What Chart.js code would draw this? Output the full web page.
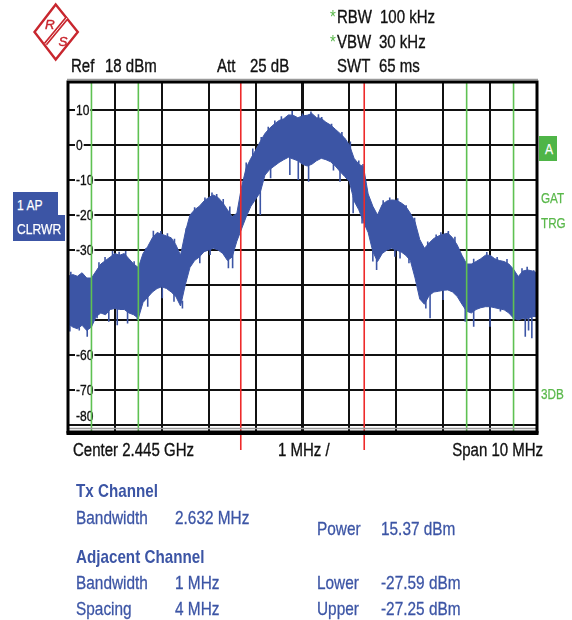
<!DOCTYPE html>
<html>
<head>
<meta charset="utf-8">
<script src="https://cdn.jsdelivr.net/npm/chart.js@4.4.1/dist/chart.umd.min.js"></script>
<style>
  html, body { margin: 0; padding: 0; background: #fff; }
  #wrap { position: relative; width: 572px; height: 620px; overflow: hidden;
          font-family: 'Liberation Sans', Arial, Helvetica, sans-serif; color: #111; }
  #c { position: absolute; left: 0; top: 0; }
  .t { position: absolute; white-space: nowrap; line-height: 1; transform: scaleX(0.79); transform-origin: left top; }
  .r { transform-origin: right top; }
  .h { font-size: 19px; -webkit-text-stroke: 0.35px #111; }
  .g { color: #5ab84b; }
  .s { font-size: 15px; transform: scaleX(0.78); -webkit-text-stroke: 0.25px #5ab84b; }
  .tb { font-size: 19px; color: #3c55a5; transform: scaleX(0.81); -webkit-text-stroke: 0.3px #3c55a5; }
  .b { font-weight: bold; -webkit-text-stroke: 0; transform: scaleX(0.8); }
  .ast { font-size: 19px; }
  .box { position: absolute; background: #3c55a5; }
  .boxt { position: absolute; color: #fff; font-size: 15.5px; line-height: 1; white-space: nowrap; transform: scaleX(0.78); transform-origin: left top; -webkit-text-stroke: 0.25px #fff; }
</style>
</head>
<body>
<div id="wrap">
  <canvas id="c" width="572" height="620"></canvas>

  <!-- R&S logo -->
  <svg style="position:absolute;left:0;top:0" width="100" height="70" viewBox="0 0 100 70">
    <polygon points="55.7,4.5 77.8,32 55.7,59.5 34.5,32" fill="none" stroke="#c8262e" stroke-width="2.4"/>
    <line x1="45.5" y1="44" x2="67" y2="18" stroke="#c8262e" stroke-width="4"/>
    <line x1="45.5" y1="44" x2="67" y2="18" stroke="#fff" stroke-width="0.9"/>
    <text x="45" y="29" font-family="Liberation Sans, Arial, sans-serif" font-size="13.5" fill="#c8262e" stroke="#c8262e" stroke-width="0.4" font-style="italic">R</text>
    <text x="58.5" y="46" font-family="Liberation Sans, Arial, sans-serif" font-size="13.5" fill="#c8262e" stroke="#c8262e" stroke-width="0.4" font-style="italic">S</text>
  </svg>

  <!-- header -->
  <div class="t g ast" style="left:329.5px;top:7.4px;">*</div>
  <div class="t h" style="left:337px;top:7.4px;">RBW</div>
  <div class="t h" style="left:380px;top:7.4px;">100 kHz</div>
  <div class="t g ast" style="left:329.5px;top:32.4px;">*</div>
  <div class="t h" style="left:337px;top:32.4px;">VBW</div>
  <div class="t h" style="left:379px;top:32.4px;">30 kHz</div>
  <div class="t h" style="left:71px;top:55.7px;">Ref</div>
  <div class="t h" style="left:105px;top:55.7px;">18 dBm</div>
  <div class="t h" style="left:217px;top:55.7px;">Att</div>
  <div class="t h" style="left:250px;top:55.7px;">25 dB</div>
  <div class="t h" style="left:337px;top:55.7px;">SWT</div>
  <div class="t h" style="left:379px;top:55.7px;">65 ms</div>

  <!-- trace info box -->
  <div class="box" style="left:13px;top:192px;width:45px;height:23px;"></div>
  <div class="box" style="left:13px;top:215px;width:52px;height:26px;"></div>
  <div class="boxt" style="left:17px;top:196.5px;">1 AP</div>
  <div class="boxt" style="left:16.5px;top:220.5px;">CLRWR</div>

  <!-- right side indicators -->
  <div class="box" style="left:539px;top:136px;width:18px;height:25px;background:#4fb548;"></div>
  <div class="boxt" style="left:544.5px;top:141.2px;">A</div>
  <div class="t g s" style="left:541px;top:190.2px;">GAT</div>
  <div class="t g s" style="left:541px;top:214.7px;">TRG</div>
  <div class="t g s" style="left:541px;top:385.7px;">3DB</div>

  <!-- axis footer -->
  <div class="t h" style="left:72.5px;top:439.7px;">Center 2.445 GHz</div>
  <div class="t h" style="left:278px;top:439.7px;">1 MHz /</div>
  <div class="t h r" style="right:29px;top:439.7px;">Span 10 MHz</div>

  <!-- measurement table -->
  <div class="t tb b" style="left:76px;top:480.7px;">Tx Channel</div>
  <div class="t tb" style="left:76px;top:507.7px;">Bandwidth</div>
  <div class="t tb" style="left:175px;top:507.7px;" id="txbw"></div>
  <div class="t tb" style="left:316.5px;top:518.7px;">Power</div>
  <div class="t tb" style="left:381px;top:518.7px;" id="txpow"></div>
  <div class="t tb b" style="left:76px;top:546.7px;">Adjacent Channel</div>
  <div class="t tb" style="left:76px;top:572.7px;">Bandwidth</div>
  <div class="t tb" style="left:175px;top:572.7px;" id="adjbw"></div>
  <div class="t tb" style="left:316.5px;top:572.7px;">Lower</div>
  <div class="t tb" style="left:381px;top:572.7px;" id="adjlow"></div>
  <div class="t tb" style="left:76px;top:598.7px;">Spacing</div>
  <div class="t tb" style="left:175px;top:598.7px;" id="adjsp"></div>
  <div class="t tb" style="left:316.5px;top:598.7px;">Upper</div>
  <div class="t tb" style="left:381px;top:598.7px;" id="adjup"></div>
</div>

<script>
// ---------- data (frequency offset in MHz from 2.445 GHz, level in dBm) ----------
const freqMHz = [
  -5.0,-4.9,-4.8,-4.7,-4.6,-4.5,-4.4,-4.3,-4.2,-4.1,
  -4.0,-3.9,-3.8,-3.7,-3.6,-3.5,-3.4,-3.3,-3.2,-3.1,
  -3.0,-2.9,-2.8,-2.7,-2.6,-2.5,-2.4,-2.3,-2.2,-2.1,
  -2.0,-1.9,-1.8,-1.7,-1.6,-1.5,-1.4,-1.3,-1.2,-1.1,
  -1.0,-0.9,-0.8,-0.7,-0.6,-0.5,-0.4,-0.3,-0.2,-0.1,
   0.0, 0.1, 0.2, 0.3, 0.4, 0.5, 0.6, 0.7, 0.8, 0.9,
   1.0, 1.1, 1.2, 1.3, 1.4, 1.5, 1.6, 1.7, 1.8, 1.9,
   2.0, 2.1, 2.2, 2.3, 2.4, 2.5, 2.6, 2.7, 2.8, 2.9,
   3.0, 3.1, 3.2, 3.3, 3.4, 3.5, 3.6, 3.7, 3.8, 3.9,
   4.0, 4.1, 4.2, 4.3, 4.4, 4.5, 4.6, 4.7, 4.8, 4.9,
   5.0
];
// upper edge of the noisy trace
const traceMax = [
  -37.5,-37,-37.5,-36.5,-38,-38,-36,-34,-33,-32,
  -31,-31.5,-31,-32.5,-34,-35,-31,-29,-26.5,-25,
  -25.5,-26,-26.5,-28.5,-31.5,-25,-20,-18.5,-17.5,-16,
  -15,-14.3,-15,-16.5,-18.5,-20.5,-19.5,-12,-6.5,-3.8,
  -1.5,1,3.3,4.8,6,7,7.5,8.6,8.5,7.8,
  8.3,8.5,9,7.8,7.6,6.5,5.7,4.5,3.3,2,
  0,-3.8,-5.5,-6.2,-14,-17.5,-20,-17,-16,-15.7,
  -15.8,-16.5,-17.5,-19.5,-22,-27,-29.5,-28,-26.7,-26,
  -25.5,-25.2,-26.5,-28.6,-31.5,-34,-34,-33.3,-32.5,-31.5,
  -31.5,-32.5,-33,-33.3,-34,-35.5,-37.6,-36,-35.7,-36,
  -36.5
];
// lower edge of the noisy trace
const traceMin = [
  -51,-52,-52.5,-51.5,-53,-52,-49,-48,-48.5,-47,
  -46.7,-47,-47,-48,-48.5,-49.5,-45,-43.5,-42,-41,
  -40.5,-41,-42,-43.3,-46,-40,-35,-33,-32,-30.5,
  -30,-29.5,-30,-31,-33,-32,-27.5,-24,-20.5,-17.5,
  -15.5,-13.5,-8.6,-7,-6,-5,-4.2,-3.5,-4,-4.5,
  -5.5,-6,-5.5,-4.5,-3.8,-4.2,-4.8,-6,-7.6,-9,
  -10.5,-16,-18.5,-22,-25,-30.5,-33.3,-31,-30,-29.5,
  -30,-30.5,-31.5,-33,-38,-44,-45.5,-43,-42,-41.8,
  -41.5,-41.4,-42,-43.3,-45.5,-47.5,-48,-47,-46.5,-46.2,
  -46.2,-46.5,-46.8,-47.1,-48,-49.5,-50,-49.5,-49.6,-49,
  -49
];
// downward noise spikes
const spikeDownFreqMHz = [-4.96,-4.76,-4.59,-4.38,-4.13,-3.95,-3.73,-3.52,-3.3,-2.99,-2.74,-2.56,-2.19,-1.97,-1.58,-1.49,-0.9,-0.68,-0.27,-0.09,0.13,0.66,0.8,1.08,1.27,1.5,1.58,1.97,2.08,2.27,2.63,2.72,3.0,3.47,3.65,4.0,4.22,4.5,4.75,4.82,4.89];
const spikeDownMin     = [-53.3,-53,-54.8,-49.5,-50.5,-51.5,-51,-50,-46.2,-43.8,-44.8,-46.7,-33.8,-31.4,-35.2,-35.2,-20,-9.5,-8.6,-10,-10.5,-7.3,-10.5,-19.5,-22.4,-33.3,-35.7,-31.9,-32.4,-33.8,-46.7,-49.5,-44.3,-50.5,-51.9,-51.9,-47.6,-50,-54.8,-53,-55.2];
// upward noise peaks
const spikeUpFreqMHz = [-4.94,-4.34,-4.21,-4.05,-3.91,-3.77,-3.59,-3.34,-3.18,-3.02,-2.88,-2.73,-2.48,-2.3,-2.08,-1.93,-1.83,-1.69,-1.55,-1.2,-1.06,-0.88,-0.73,-0.59,-0.45,-0.22,0.0,0.18,0.34,0.41,0.62,0.84,1.02,1.2,1.29,1.72,1.86,2.03,2.21,2.39,2.67,2.85,2.95,3.11,3.25,3.65,3.93,4.15,4.36,4.68,4.79,4.93];
const spikeUpMax     = [-36.2,-33.5,-32,-30.3,-30.5,-30.3,-33.2,-29.5,-24.5,-24.6,-25.2,-26.8,-23.8,-17.8,-15,-13.6,-14,-15.4,-17.6,-5,-1,2.3,5.2,7,8.2,9.7,9,9.6,8.8,8,6.1,3.7,1,-4.4,-5.4,-15.8,-15,-15.2,-17.2,-20.8,-27.6,-25.6,-24.9,-24.6,-26.2,-32.5,-30.6,-32,-32.6,-35.2,-34.8,-35.8];

// axis definition
const xMinMHz = -5, xMaxMHz = 5;           // Span 10 MHz, 1 MHz / div
const yRefDbm = 18, yBottomDbm = -82;      // Ref 18 dBm, 10 dB / div
const yGridValues = [18, 10, 0, -10, -20, -30, -40, -50, -60, -70, -80, -82];
const yTickLabels = [10, 0, -10, -20, -30, -40, -50, -60, -70, -80];

// channel limit lines (MHz)
const txChannelEdges = [-1.316, 1.316];              // Tx bandwidth 2.632 MHz
const adjChannelEdges = [-4.5, -3.5, 3.5, 4.5];      // adjacent: 1 MHz wide, 4 MHz spacing

// measurement results
const txBandwidth = '2.632 MHz', txPower = '15.37 dBm';
const adjBandwidth = '1 MHz', adjSpacing = '4 MHz', adjLower = '-27.59 dBm', adjUpper = '-27.25 dBm';

document.getElementById('txbw').textContent = txBandwidth;
document.getElementById('txpow').textContent = txPower;
document.getElementById('adjbw').textContent = adjBandwidth;
document.getElementById('adjsp').textContent = adjSpacing;
document.getElementById('adjlow').textContent = adjLower;
document.getElementById('adjup').textContent = adjUpper;

// ---------- build datasets ----------
const TRACE = '#3c55a5';
const nearest = f => {
  let best = 0;
  freqMHz.forEach((g, j) => { if (Math.abs(g - f) < Math.abs(freqMHz[best] - f)) best = j; });
  return best;
};
const lowerPts = freqMHz.map((f, i) => ({ x: f, y: traceMin[i] }));
const upperPts = freqMHz.map((f, i) => ({ x: f, y: traceMax[i] }));
const spikePts = [];
spikeDownFreqMHz.forEach((f, i) => {
  spikePts.push({ x: f, y: traceMin[nearest(f)] + 1.5 }, { x: f, y: spikeDownMin[i] }, { x: f, y: null });
});
spikeUpFreqMHz.forEach((f, i) => {
  spikePts.push({ x: f, y: traceMax[nearest(f)] - 1.5 }, { x: f, y: spikeUpMax[i] }, { x: f, y: null });
});

const FONT = "'Liberation Sans', Arial, sans-serif";

const yLabelPlugin = {
  id: 'yLabels',
  beforeDatasetsDraw(chart) {
    const { ctx, chartArea, scales } = chart;
    ctx.save();
    ctx.font = '15px ' + FONT;
    ctx.textBaseline = 'middle';
    ctx.textAlign = 'left';
    const sx = 0.8;
    yTickLabels.forEach(v => {
      let y = scales.y.getPixelForValue(v) + 1;
      y = Math.min(y, chartArea.bottom - 15);
      const txt = String(v);
      const w = ctx.measureText(txt).width * sx;
      const x = chartArea.left + 8;
      ctx.fillStyle = '#fff';
      ctx.fillRect(x - 1, y - 7, w + 2, 14);
      ctx.save();
      ctx.translate(x, y);
      ctx.scale(sx, 1);
      ctx.fillStyle = '#111';
      ctx.strokeStyle = '#111';
      ctx.lineWidth = 0.35;
      ctx.fillText(txt, 0, 0);
      ctx.strokeText(txt, 0, 0);
      ctx.restore();
    });
    ctx.restore();
  }
};

const markerPlugin = {
  id: 'markers',
  afterDatasetsDraw(chart) {
    const { ctx, chartArea: a, scales } = chart;
    ctx.save();
    ctx.lineWidth = 1.6;
    ctx.strokeStyle = '#5ec152';
    adjChannelEdges.forEach(f => {
      const x = scales.x.getPixelForValue(f);
      ctx.beginPath(); ctx.moveTo(x, a.top); ctx.lineTo(x, a.bottom); ctx.stroke();
    });
    ctx.strokeStyle = '#ee2a2a';
    txChannelEdges.forEach(f => {
      const x = scales.x.getPixelForValue(f);
      ctx.beginPath(); ctx.moveTo(x, a.top); ctx.lineTo(x, a.bottom + 18); ctx.stroke();
    });
    // frame
    ctx.strokeStyle = '#9a9a9a';
    ctx.lineWidth = 1.5;
    ctx.beginPath(); ctx.moveTo(a.left - 1, a.top - 2.5); ctx.lineTo(a.right + 1, a.top - 2.5); ctx.stroke();
    ctx.beginPath(); ctx.moveTo(a.left, a.bottom - 3.5); ctx.lineTo(a.right, a.bottom - 3.5); ctx.stroke();
    ctx.strokeStyle = '#000';
    ctx.lineWidth = 3;
    ctx.strokeRect(a.left, a.top, a.right - a.left, a.bottom - a.top);
    ctx.lineWidth = 4;
    ctx.beginPath(); ctx.moveTo(a.left - 1.5, a.bottom + 1); ctx.lineTo(a.right + 1.5, a.bottom + 1); ctx.stroke();
    ctx.restore();
  }
};

new Chart(document.getElementById('c'), {
  type: 'line',
  data: {
    datasets: [
      { data: lowerPts, borderColor: TRACE, borderWidth: 1, pointRadius: 0, fill: false, tension: 0 },
      { data: upperPts, borderColor: TRACE, borderWidth: 1, pointRadius: 0, fill: '-1', backgroundColor: TRACE, tension: 0 },
      { data: spikePts, borderColor: TRACE, borderWidth: 1.6, pointRadius: 0, fill: false, spanGaps: false, tension: 0 }
    ]
  },
  options: {
    responsive: false,
    animation: false,
    devicePixelRatio: 1,
    layout: { padding: { left: 68, right: 35, top: 82, bottom: 188 } },
    plugins: { legend: { display: false }, tooltip: { enabled: false }, title: { display: false } },
    scales: {
      x: {
        type: 'linear', min: xMinMHz, max: xMaxMHz,
        ticks: { display: false, stepSize: 1 },
        grid: { drawTicks: false, color: '#111', lineWidth: c => (c.tick && c.tick.value === 0) ? 3 : 2 },
        border: { display: false }
      },
      y: {
        type: 'linear', min: yBottomDbm, max: yRefDbm,
        afterBuildTicks: s => { s.ticks = yGridValues.map(v => ({ value: v })); },
        ticks: { display: false },
        grid: { drawTicks: false, color: '#111', lineWidth: 2 },
        border: { display: false }
      }
    }
  },
  plugins: [yLabelPlugin, markerPlugin]
});
</script>
</body>
</html>
